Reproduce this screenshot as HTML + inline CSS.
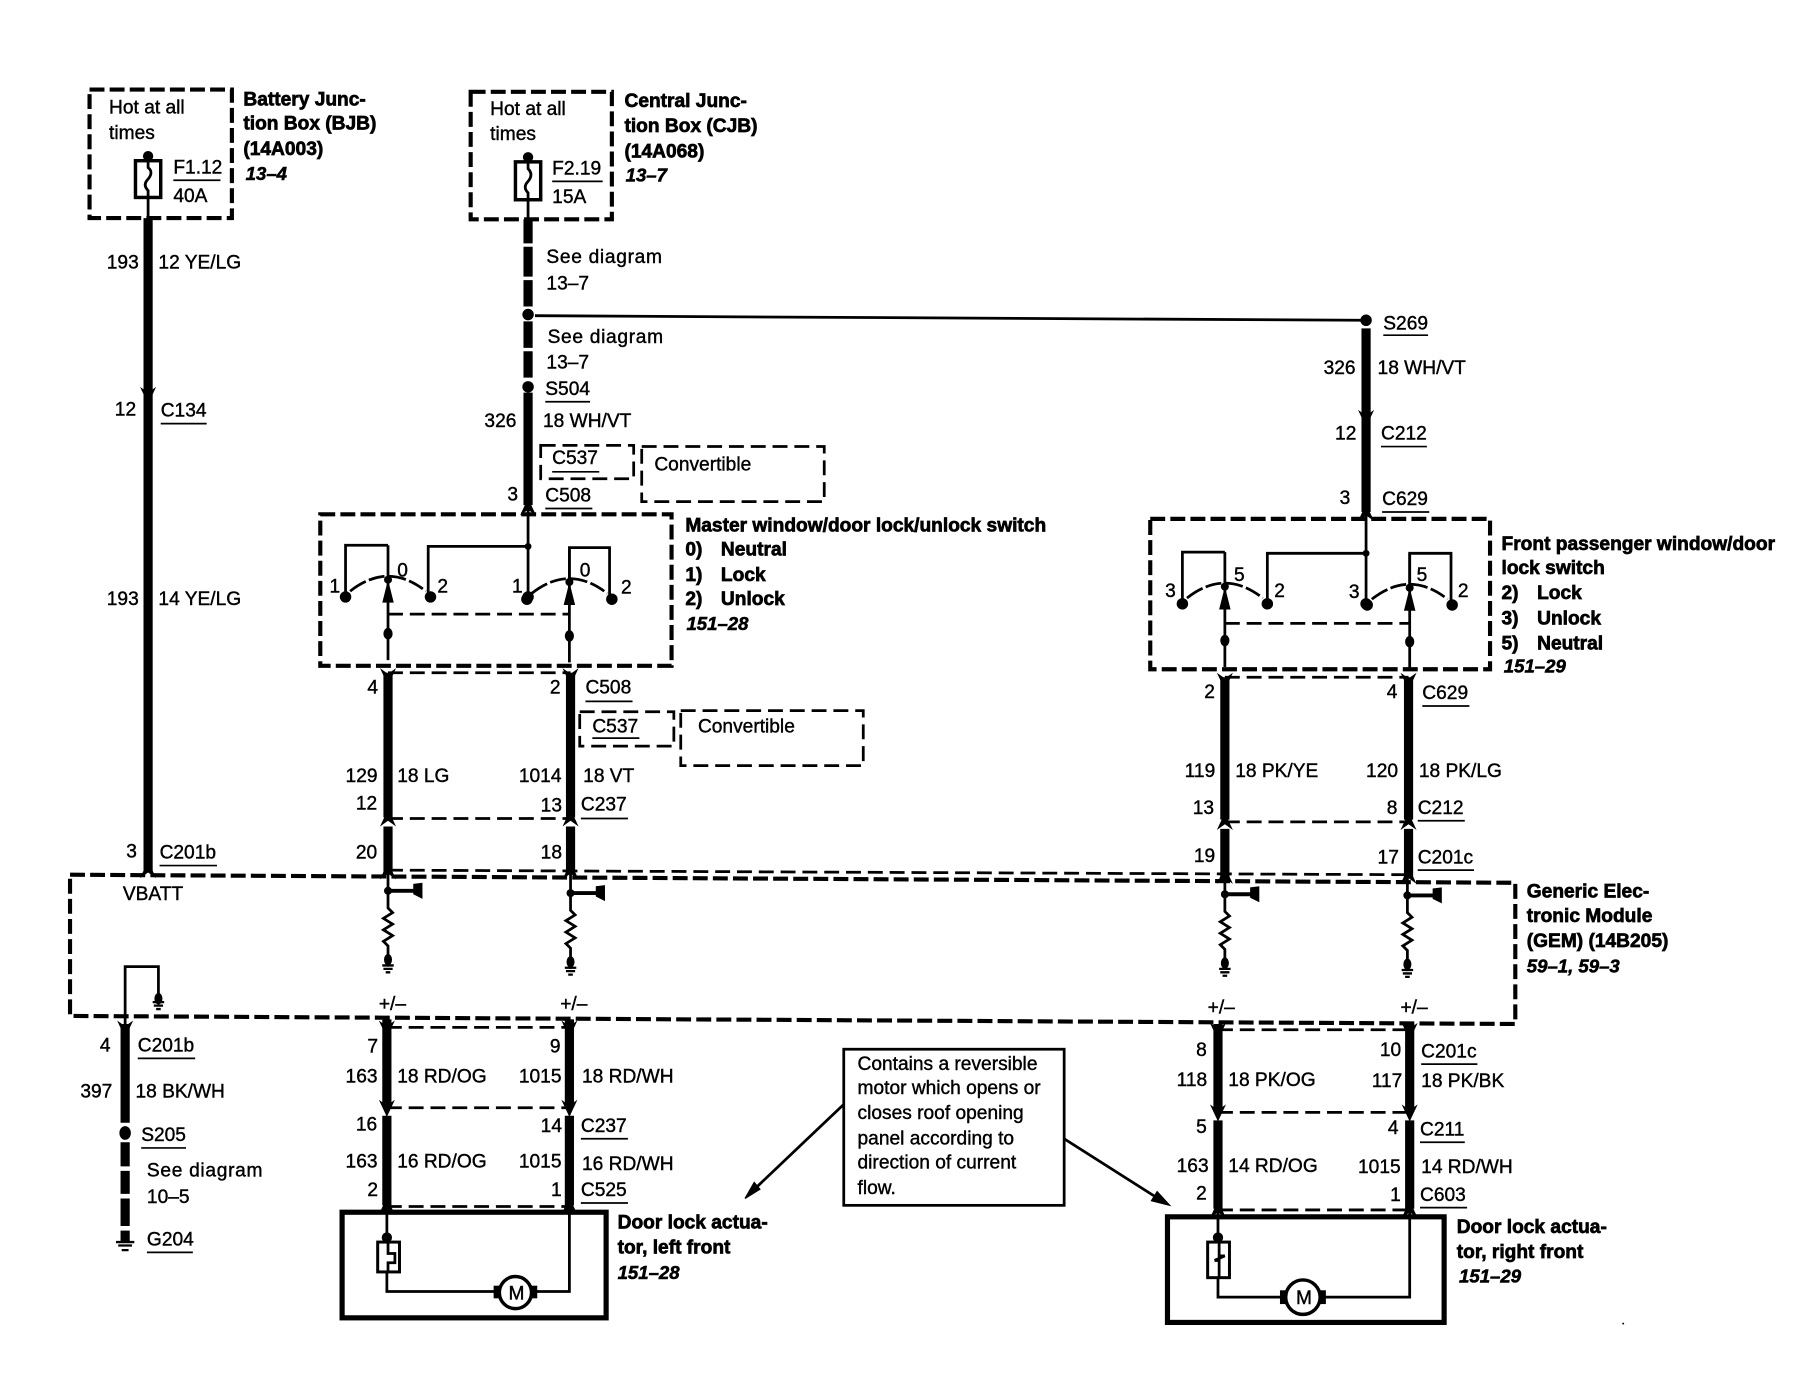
<!DOCTYPE html>
<html><head><meta charset="utf-8"><style>
html,body{margin:0;padding:0;background:#fff}
svg{display:block}
text{font-family:"Liberation Sans",sans-serif;font-size:16.7px;fill:#000;stroke:#000;stroke-width:.35px}
.b{font-weight:bold;font-size:16.7px;stroke-width:.6px}
.i{font-weight:bold;font-style:italic;font-size:16.2px;stroke-width:.5px}
.s{letter-spacing:.6px}
.t{fill:none;stroke:#000;stroke-width:8}
.w{fill:none;stroke:#000;stroke-width:2.4}
.d{fill:none;stroke:#000;stroke-width:3.6;stroke-dasharray:13 4.5}
.c{fill:none;stroke:#000;stroke-width:2.4;stroke-dasharray:13 6}
.u{stroke:#000;stroke-width:1.5}
</style></head><body>
<svg width="1800" height="1392" viewBox="0 0 1568 1212.6" xmlns="http://www.w3.org/2000/svg">
<defs>
<path id="ad" d="M-7,-8 L0,-3 L7,-8 L0,7 Z" fill="#000"/>
<path id="au" d="M-7,8 L0,3 L7,8 L0,-7 Z" fill="#000"/>
<g id="sw">
<path d="M0,0 V100" class="w"/>
<circle cx="-37" cy="45" r="5"/><circle cx="37" cy="45" r="5"/>
<path d="M-33,40 Q0,14 33,40" fill="none" stroke="#000" stroke-width="2.4" stroke-dasharray="16 3 14 3"/>
<circle cx="0" cy="30" r="3.5"/>
<path d="M-5,50 L0,30 L5,50 Z"/>
<ellipse cx="0" cy="77" rx="4" ry="5"/>
</g>
<g id="res">
<circle cx="0" cy="0" r="3.5"/>
<path d="M0,0 L0,15 L4,19 L-4,24 L4,29 L-4,34 L4,39 L-4,44 L0,48 L0,66" class="w"/>
<path d="M0,0 H24" stroke="#000" stroke-width="3.4"/>
<path d="M22,-6 L30,-7 L30,7 L22,3 Z"/>
<ellipse cx="0" cy="60" rx="3.5" ry="5"/>
<path d="M-5,65 H5 M-4,68 H4 M-2,71 H2" stroke="#000" stroke-width="2"/>
</g>
</defs>

<!-- BJB -->
<rect x="78" y="78" width="124" height="112" class="d"/>
<text x="95" y="99">Hot at all</text><text x="95" y="121">times</text>
<circle cx="129" cy="136" r="4.5"/>
<rect x="118" y="140" width="22" height="32" fill="#fff" stroke="#000" stroke-width="3"/>
<path d="M129,136 V146 Q134,150 129,156 Q124,161 129,166 V190" class="w"/>
<text x="151" y="151">F1.12</text><path d="M151,157 H192" class="u"/><text x="151" y="176">40A</text>
<text class="b" x="212" y="92">Battery Junc-</text><text class="b" x="212" y="113">tion Box (BJB)</text><text class="b" x="212" y="135">(14A003)</text><text class="i" x="214" y="157">13–4</text>
<path d="M129,190 V760" class="t"/>
<use href="#ad" x="129" y="345"/>
<text x="93" y="234">193</text><text x="138" y="234">12 YE/LG</text>
<text x="100" y="362">12</text><text x="140" y="363">C134</text><path d="M140,369 H180" class="u"/>
<text x="93" y="527">193</text><text x="138" y="527">14 YE/LG</text>
<text x="110" y="747">3</text><text x="139" y="748">C201b</text><path d="M139,754 H189" class="u"/>
<use href="#au" x="129" y="757"/>

<!-- CJB -->
<rect x="410" y="80" width="123" height="111" class="d"/>
<text x="427" y="100">Hot at all</text><text x="427" y="122">times</text>
<circle cx="460" cy="137" r="4.5"/>
<rect x="449" y="141" width="22" height="33" fill="#fff" stroke="#000" stroke-width="3"/>
<path d="M460,137 V147 Q465,152 460,158 Q455,163 460,168 V191" class="w"/>
<text x="481" y="152">F2.19</text><path d="M481,158 H525" class="u"/><text x="481" y="177">15A</text>
<text class="b" x="544" y="93">Central Junc-</text><text class="b" x="544" y="115">tion Box (CJB)</text><text class="b" x="544" y="137">(14A068)</text><text class="i" x="545" y="158">13–7</text>
<path d="M460,191 V212 M460,215 V241 M460,244 V267 M460,280 V303 M460,306 V329 M460,342 V440" class="t"/>
<circle cx="460" cy="274" r="5"/><circle cx="460" cy="337" r="5"/>
<use href="#au" x="460" y="441"/>
<path d="M466,275 L1186,279" class="w" stroke-width="2.4"/>
<text class="s" x="476" y="229">See diagram</text><text x="476" y="252">13–7</text>
<text class="s" x="477" y="299">See diagram</text><text x="476" y="321">13–7</text>
<text x="475" y="344">S504</text><path d="M475,350 H514" class="u"/>
<text x="422" y="372">326</text><text x="473" y="372">18 WH/VT</text>
<rect x="471" y="388" width="81" height="29" class="c"/>
<text x="481" y="404">C537</text><path d="M481,411 H522" class="u"/>
<rect x="559" y="389" width="159" height="48" class="c"/>
<text x="570" y="410">Convertible</text>
<text x="442" y="436">3</text><text x="475" y="437">C508</text><path d="M475,443 H516" class="u"/>

<!-- S269 -->
<circle cx="1190" cy="279" r="5"/>
<path d="M1190,286 V446" class="t"/>
<use href="#ad" x="1190" y="365"/><use href="#au" x="1190" y="446"/>
<text x="1205" y="287">S269</text><path d="M1205,292 H1244" class="u"/>
<text x="1153" y="326">326</text><text x="1200" y="326">18 WH/VT</text>
<text x="1163" y="383">12</text><text x="1203" y="383">C212</text><path d="M1203,389 H1243" class="u"/>
<text x="1167" y="439">3</text><text x="1204" y="440">C629</text><path d="M1204,446 H1245" class="u"/>

<!-- Master switch -->
<rect x="279" y="448" width="306" height="132" class="d"/>
<use href="#sw" x="338" y="475"/><use href="#sw" x="496" y="477"/>
<path d="M301,520 V475 H338 M373,520 V476 H460 M460,440 V520 M496,507 V477 H531 V520" class="w"/>
<circle cx="460" cy="476" r="3"/><circle cx="460" cy="520" r="5"/>
<path d="M338,535 H496" class="c"/>
<text x="287" y="516">1</text><text x="346" y="502">0</text><text x="381" y="516">2</text>
<text x="446" y="516">1</text><text x="505" y="502">0</text><text x="541" y="517">2</text>
<text class="b" x="597" y="463">Master window/door lock/unlock switch</text>
<text class="b" x="597" y="484">0)</text><text class="b" x="628" y="484">Neutral</text>
<text class="b" x="597" y="506">1)</text><text class="b" x="628" y="506">Lock</text>
<text class="b" x="597" y="527">2)</text><text class="b" x="628" y="527">Unlock</text>
<text class="i" x="598" y="549">151–28</text>

<path d="M338,586 V712 M338,720 V760 M497,586 V712 M497,720 V760" class="t"/>
<path d="M338,586 H497 M338,713 H497" class="c"/>
<use href="#ad" x="338" y="590"/><use href="#ad" x="497" y="590"/>
<use href="#au" x="338" y="712"/><use href="#au" x="497" y="712"/>
<use href="#au" x="338" y="758"/><use href="#au" x="497" y="758"/>
<text x="320" y="604">4</text><text x="479" y="604">2</text><text x="510" y="604">C508</text><path d="M510,611 H551" class="u"/>
<rect x="505" y="620" width="82" height="30" class="c"/>
<text x="516" y="638">C537</text><path d="M516,643 H557" class="u"/>
<rect x="593" y="619" width="159" height="48" class="c"/>
<text x="608" y="638">Convertible</text>
<text x="301" y="681">129</text><text x="346" y="681">18 LG</text><text x="452" y="681">1014</text><text x="508" y="681">18 VT</text>
<text x="310" y="705">12</text><text x="471" y="707">13</text><text x="506" y="706">C237</text><path d="M506,713 H547" class="u"/>
<text x="310" y="748">20</text><text x="471" y="748">18</text>

<!-- Right switch -->
<rect x="1002" y="452" width="296" height="131" class="d"/>
<use href="#sw" x="1067" y="481"/><use href="#sw" x="1228" y="482"/>
<path d="M1030,526 V481 H1067 M1104,526 V482 H1190 M1190,446 V526 M1228,513 V482 H1264 V526" class="w"/>
<circle cx="1190" cy="482" r="3"/><circle cx="1190" cy="526" r="5"/>
<path d="M1067,543 H1228" class="c"/>
<text x="1015" y="520">3</text><text x="1075" y="506">5</text><text x="1110" y="520">2</text>
<text x="1175" y="521">3</text><text x="1234" y="506">5</text><text x="1270" y="520">2</text>
<text class="b" x="1308" y="479">Front passenger window/door</text>
<text class="b" x="1308" y="500">lock switch</text>
<text class="b" x="1308" y="522">2)</text><text class="b" x="1339" y="522">Lock</text>
<text class="b" x="1308" y="544">3)</text><text class="b" x="1339" y="544">Unlock</text>
<text class="b" x="1308" y="566">5)</text><text class="b" x="1339" y="566">Neutral</text>
<text class="i" x="1310" y="586">151–29</text>

<path d="M1067,590 V714 M1067,722 V764 M1227,590 V714 M1227,722 V764" class="t"/>
<path d="M1067,590 H1227 M1067,716 H1227" class="c"/>
<use href="#ad" x="1067" y="594"/><use href="#ad" x="1227" y="594"/>
<use href="#au" x="1067" y="715"/><use href="#au" x="1227" y="715"/>
<use href="#au" x="1067" y="762"/><use href="#au" x="1227" y="762"/>
<text x="1049" y="608">2</text><text x="1208" y="608">4</text><text x="1239" y="609">C629</text><path d="M1239,615 H1280" class="u"/>
<text x="1032" y="677">119</text><text x="1076" y="677">18 PK/YE</text><text x="1190" y="677">120</text><text x="1236" y="677">18 PK/LG</text>
<text x="1039" y="709">13</text><text x="1208" y="709">8</text><text x="1235" y="709">C212</text><path d="M1235,715 H1276" class="u"/>
<text x="1040" y="751">19</text><text x="1200" y="752">17</text><text x="1235" y="752">C201c</text><path d="M1235,758 H1284" class="u"/>

<!-- GEM -->
<path d="M338,758 L1227,762" class="c"/>
<path d="M61,762 L1320,769 L1320,892 L61,885 Z" class="d"/>
<text x="107" y="784">VBATT</text>
<use href="#res" x="338" y="776"/><use href="#res" x="497" y="778"/><use href="#res" x="1067" y="779"/><use href="#res" x="1226" y="780"/>
<path d="M338,760 V776 M497,760 V778 M1067,764 V779 M1226,764 V780" class="w"/>
<text x="330" y="880">+/–</text><text x="488" y="880">+/–</text><text x="1052" y="883">+/–</text><text x="1220" y="883">+/–</text>
<text class="b" x="1330" y="782">Generic Elec-</text><text class="b" x="1330" y="803">tronic Module</text><text class="b" x="1330" y="825">(GEM) (14B205)</text><text class="i" x="1330" y="847">59–1, 59–3</text>
<path d="M109,892 V842 H138 V868" class="w" stroke-width="2.4"/>
<ellipse cx="138" cy="870" rx="3.5" ry="5"/><path d="M133,873 H143 M134,876 H142 M136,879 H140" stroke="#000" stroke-width="2"/>

<!-- Bottom left -->
<path d="M109,892 V978 M109,995 V1016 M109,1020 V1040 M109,1044 V1068" class="t"/>
<use href="#ad" x="109" y="897"/>
<ellipse cx="109" cy="987" rx="5" ry="6"/>
<text x="87" y="916">4</text><text x="120" y="916">C201b</text><path d="M120,922 H170" class="u"/>
<text x="70" y="956">397</text><text x="118" y="956">18 BK/WH</text>
<text x="123" y="994">S205</text><path d="M123,1000 H162" class="u"/>
<text class="s" x="128" y="1025">See diagram</text><text x="128" y="1048">10–5</text>
<path d="M101,1082 H117 M103,1085 H115 M106,1089 H112" stroke="#000" stroke-width="2"/>
<path d="M109,1072 V1082" stroke="#000" stroke-width="8"/>
<text x="128" y="1085">G204</text><path d="M128,1091 H168" class="u"/>

<!-- Bottom middle -->
<path d="M337,888 V964 M337,972 V1050 M496,888 V964 M496,972 V1050" class="t"/>
<path d="M337,895 H496 M337,965 H496 M337,1051 H496" class="c"/>
<use href="#ad" x="337" y="897"/><use href="#ad" x="496" y="897"/><use href="#ad" x="337" y="966"/><use href="#ad" x="496" y="966"/>
<use href="#au" x="337" y="1050"/><use href="#au" x="496" y="1050"/>
<text x="320" y="917">7</text><text x="479" y="917">9</text>
<text x="301" y="943">163</text><text x="346" y="943">18 RD/OG</text><text x="452" y="943">1015</text><text x="507" y="943">18 RD/WH</text>
<text x="310" y="985">16</text><text x="471" y="986">14</text><text x="506" y="986">C237</text><path d="M506,992 H547" class="u"/>
<text x="301" y="1017">163</text><text x="346" y="1017">16 RD/OG</text><text x="452" y="1017">1015</text><text x="507" y="1019">16 RD/WH</text>
<text x="320" y="1042">2</text><text x="480" y="1042">1</text><text x="506" y="1042">C525</text><path d="M506,1048 H547" class="u"/>
<rect x="298" y="1056" width="230" height="92" fill="none" stroke="#000" stroke-width="4.5"/>
<path d="M337,1050 V1082 M337,1108 V1125 H434 M464,1125 H496 V1050" class="w"/>
<circle cx="337" cy="1078" r="4.5"/>
<rect x="329" y="1082" width="19" height="26" fill="#fff" stroke="#000" stroke-width="2.6"/>
<path d="M338,1082 V1092 H344 V1100 H338 V1108" class="w"/>
<rect x="430" y="1120" width="38" height="11" fill="#000"/>
<circle cx="449" cy="1126" r="14" fill="#fff" stroke="#000" stroke-width="3"/>
<text x="443" y="1132">M</text>
<text class="b" x="538" y="1070">Door lock actua-</text><text class="b" x="538" y="1092">tor, left front</text><text class="i" x="538" y="1114">151–28</text>

<!-- Callout -->
<rect x="735" y="914" width="192" height="136" fill="none" stroke="#000" stroke-width="2.4"/>
<text x="747" y="932">Contains a reversible</text><text x="747" y="953">motor which opens or</text><text x="747" y="975">closes roof opening</text><text x="747" y="997">panel according to</text><text x="747" y="1018">direction of current</text><text x="747" y="1040">flow.</text>
<path d="M735,962 L655,1038" class="w"/><path d="M649,1044 L662,1036 L657,1030 Z" stroke="#000" stroke-width="1"/>
<path d="M927,992 L1012,1046" class="w"/><path d="M1019,1050 L1008,1038 L1003,1046 Z" stroke="#000" stroke-width="1"/>

<!-- Bottom right -->
<path d="M1061,892 V968 M1061,976 V1053 M1228,892 V968 M1228,976 V1053" class="t"/>
<path d="M1061,897 H1228 M1061,969 H1228 M1061,1054 H1228" class="c"/>
<use href="#ad" x="1061" y="899"/><use href="#ad" x="1228" y="899"/><use href="#ad" x="1061" y="970"/><use href="#ad" x="1228" y="970"/>
<use href="#au" x="1061" y="1053"/><use href="#au" x="1228" y="1053"/>
<text x="1042" y="920">8</text><text x="1202" y="920">10</text><text x="1238" y="921">C201c</text><path d="M1238,927 H1287" class="u"/>
<text x="1025" y="946">118</text><text x="1070" y="946">18 PK/OG</text><text x="1195" y="947">117</text><text x="1238" y="947">18 PK/BK</text>
<text x="1042" y="987">5</text><text x="1209" y="988">4</text><text x="1237" y="989">C211</text><path d="M1237,995 H1276" class="u"/>
<text x="1025" y="1021">163</text><text x="1070" y="1021">14 RD/OG</text><text x="1183" y="1022">1015</text><text x="1238" y="1022">14 RD/WH</text>
<text x="1042" y="1045">2</text><text x="1211" y="1046">1</text><text x="1237" y="1046">C603</text><path d="M1237,1052 H1278" class="u"/>
<rect x="1017" y="1060" width="241" height="92" fill="none" stroke="#000" stroke-width="4.5"/>
<path d="M1061,1053 V1082 M1061,1113 V1130 H1120 M1150,1130 H1228 V1053" class="w"/>
<circle cx="1061" cy="1078" r="4.5"/>
<rect x="1052" y="1082" width="19" height="31" fill="#fff" stroke="#000" stroke-width="2.6"/>
<path d="M1062,1082 V1094 H1067 M1058,1098 H1062 V1113" class="w"/>
<path d="M1067,1094 L1058,1098" class="w"/>
<rect x="1115" y="1124" width="40" height="12" fill="#000"/>
<circle cx="1135" cy="1130" r="15" fill="#fff" stroke="#000" stroke-width="3"/>
<text x="1129" y="1136">M</text>
<text class="b" x="1269" y="1074">Door lock actua-</text><text class="b" x="1269" y="1096">tor, right front</text><text class="i" x="1271" y="1117">151–29</text>
<circle cx="1414" cy="1153" r=".8"/>
</svg>
</body></html>
